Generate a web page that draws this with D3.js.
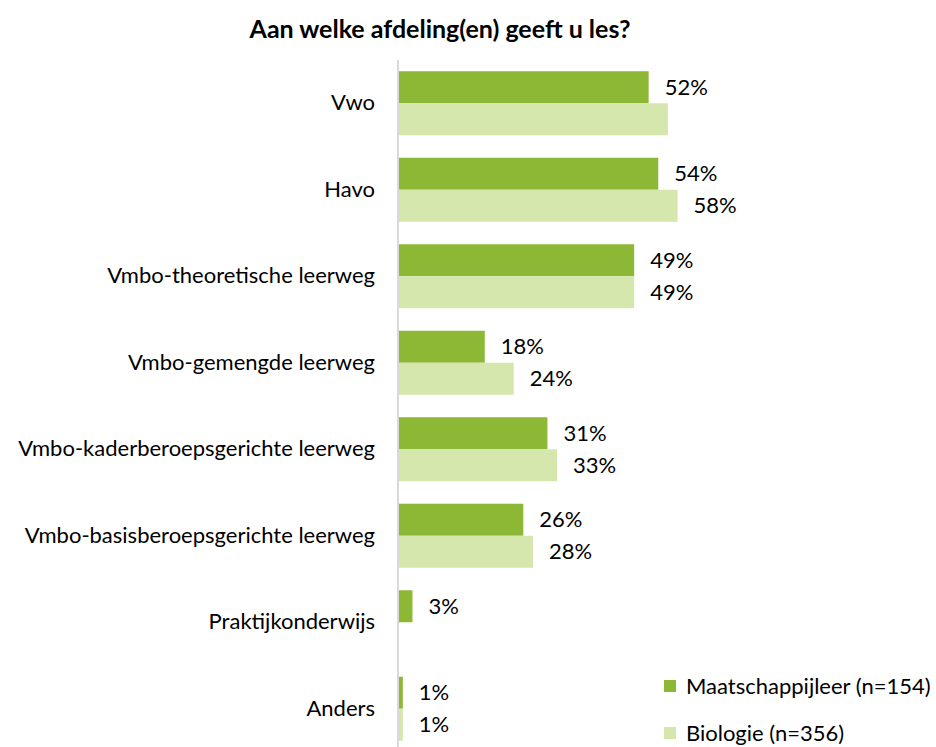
<!DOCTYPE html>
<html>
<head>
<meta charset="utf-8">
<script src="https://cdn.jsdelivr.net/npm/d3@7"></script>
<style>
  body { margin: 0; background: #fff; }
  text { font-family: Lato, "Open Sans", sans-serif; fill: #000; }
</style>
</head>
<body>
<div id="chart"></div>
<script>
// data
var categories = ['Vwo', 'Havo', 'Vmbo-theoretische leerweg', 'Vmbo-gemengde leerweg',
  'Vmbo-kaderberoepsgerichte leerweg', 'Vmbo-basisberoepsgerichte leerweg', 'Praktijkonderwijs', 'Anders'];
var maatschappijleer = [52, 54, 49, 18, 31, 26, 3, 1];
var biologie = [56, 58, 49, 24, 33, 28, null, 1];
// which biology labels are shown (Vwo has none in the original)
var biologieLabel = [false, true, true, true, true, true, false, true];
var seriesNames = ['Maatschappijleer (n=154)', 'Biologie (n=356)'];
var colors = ['#8cb835', '#d5e7ad'];

var W = 936, H = 747;
var plotLeft = 398, plotTop = 60, plotBottom = 752;
var fs = 22;

var svg = d3.select('#chart').append('svg')
    .attr('width', W)
    .attr('height', H);

var x = d3.scaleLinear()
    .domain([0, 100])
    .range([plotLeft, plotLeft + 482]);

var y = d3.scaleBand()
    .domain(categories)
    .range([plotTop, plotBottom])
    .paddingInner(0.26)
    .paddingOuter(0.13);

var sub = d3.scaleBand()
    .domain([0, 1])
    .range([0, y.bandwidth()]);

// title
svg.append('text')
    .attr('x', 440)
    .attr('y', 38)
    .attr('text-anchor', 'middle')
    .attr('font-size', 25)
    .attr('font-weight', 'bold')
    .text('Aan welke afdeling(en) geeft u les?');

var rows = categories.map(function(c, i) {
    return {cat: c, vals: [maatschappijleer[i], biologie[i]], show: [true, biologieLabel[i]]};
});

var g = svg.selectAll('.row')
    .data(rows).enter()
    .append('g')
    .attr('transform', d => 'translate(0,' + y(d.cat) + ')');

g.each(function(d) {
    var row = d3.select(this);
    d.vals.forEach(function(v, s) {
        if (v == null) return;
        row.append('rect')
            .attr('x', x(0))
            .attr('y', sub(s))
            .attr('width', x(v) - x(0))
            .attr('height', sub.bandwidth())
            .attr('fill', colors[s]);
        if (d.show[s]) {
            row.append('text')
                .attr('x', x(v) + 16)
                .attr('y', sub(s) + sub.bandwidth() / 2)
                .attr('dy', '0.35em')
                .attr('font-size', fs)
                .text(v + '%');
        }
    });
});

// category axis
var yAxis = d3.axisLeft(y).tickSize(0).tickPadding(23);
var ax = svg.append('g')
    .attr('transform', 'translate(' + plotLeft + ',0)')
    .call(yAxis);
ax.select('.domain').remove();
ax.selectAll('text')
    .attr('font-size', fs)
    .style('font-family', 'Lato, "Open Sans", sans-serif');

svg.append('line')
    .attr('x1', plotLeft).attr('x2', plotLeft)
    .attr('y1', plotTop).attr('y2', H)
    .attr('stroke', '#d9d9d9')
    .attr('stroke-width', 2);

// legend
var legend = svg.selectAll('.legend')
    .data(seriesNames).enter()
    .append('g')
    .attr('transform', (d, i) => 'translate(664,' + (686 + i * 47) + ')');

legend.append('rect')
    .attr('x', 0).attr('y', -6)
    .attr('width', 12).attr('height', 12)
    .attr('fill', (d, i) => colors[i]);

legend.append('text')
    .attr('x', 22)
    .attr('dy', '0.35em')
    .attr('font-size', fs)
    .text(d => d);
</script>
</body>
</html>
